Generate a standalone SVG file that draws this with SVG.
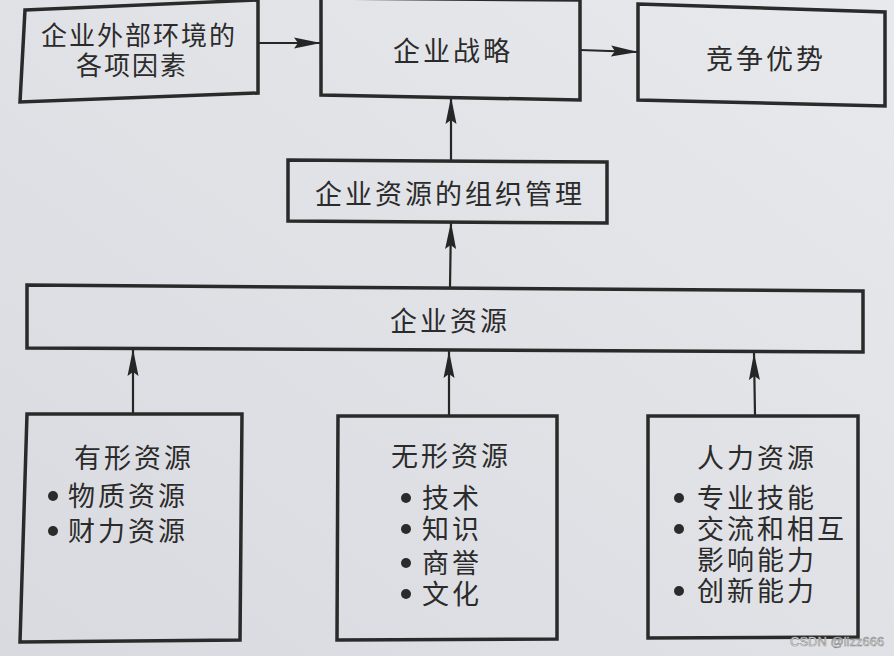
<svg xmlns="http://www.w3.org/2000/svg" width="894" height="656" viewBox="0 0 894 656">
  <defs>
    <linearGradient id="bg" x1="1" y1="0" x2="0" y2="1">
      <stop offset="0" stop-color="#e8e9ed"/>
      <stop offset="1" stop-color="#d9dadf"/>
    </linearGradient>
    <marker id="arr" markerUnits="userSpaceOnUse" markerWidth="28" markerHeight="12" refX="27" refY="6" orient="auto" viewBox="0 0 28 12">
      <path d="M0,0.5 L27,6 L0,11.5 L4,6 Z" fill="#262626"/>
    </marker>
    <style>
      .box { fill: none; stroke: #2a2a2a; stroke-width: 3.5; stroke-linejoin: miter; }
      .t { font-family: "Liberation Sans", "Noto Sans CJK SC", sans-serif; font-size: 27px; fill: #2b2b2b; dominant-baseline: central; letter-spacing: 3px; }
      .s { font-size: 26px; letter-spacing: 2px; }
      .c { text-anchor: middle; }
      .b { fill: #2b2b2b; }
      .ln { stroke: #262626; stroke-width: 2.2; fill: none; }
    </style>
  </defs>
  <rect x="0" y="0" width="894" height="656" fill="url(#bg)"/>

  <g id="connectors">
    <line class="ln" x1="258" y1="43" x2="321" y2="43" marker-end="url(#arr)"/>
    <line class="ln" x1="580" y1="50" x2="638" y2="52" marker-end="url(#arr)"/>
    <line class="ln" x1="451" y1="160" x2="451" y2="97" marker-end="url(#arr)"/>
    <line class="ln" x1="450" y1="287" x2="451" y2="222" marker-end="url(#arr)"/>
    <line class="ln" x1="133" y1="414" x2="133" y2="349" marker-end="url(#arr)"/>
    <line class="ln" x1="449" y1="416" x2="449" y2="351" marker-end="url(#arr)"/>
    <line class="ln" x1="755" y1="416" x2="754" y2="353" marker-end="url(#arr)"/>
  </g>

  <g id="n-external">
    <polygon class="box" points="25,10 258,0 258,93 20,102"/>
    <text class="t s c" x="139" y="36">企业外部环境的</text>
    <text class="t s c" x="132" y="66">各项因素</text>
  </g>
  <g id="n-strategy">
    <polygon class="box" points="321,-2 580,0 580,100 321,95"/>
    <text class="t c" x="453" y="52">企业战略</text>
  </g>
  <g id="n-advantage">
    <polygon class="box" points="638,4 885,12 885,106 638,100"/>
    <text class="t c" x="766" y="60">竞争优势</text>
  </g>
  <g id="n-org">
    <polygon class="box" points="288,160 607,162 607,223 288,221"/>
    <text class="t c" x="450" y="195">企业资源的组织管理</text>
  </g>
  <g id="n-resources">
    <polygon class="box" points="27,285 863,291 863,352 27,348"/>
    <text class="t c" x="450" y="322">企业资源</text>
  </g>
  <g id="n-tangible">
    <polygon class="box" points="27,414 242,414 240,640 20,642"/>
    <text class="t c" x="134" y="459">有形资源</text>
    <circle class="b" cx="53" cy="496" r="5"/>
    <text class="t" x="68" y="497">物质资源</text>
    <circle class="b" cx="53" cy="531" r="5"/>
    <text class="t" x="68" y="532">财力资源</text>
  </g>
  <g id="n-intangible">
    <polygon class="box" points="338,416 557,416 557,639 337,640"/>
    <text class="t c" x="451" y="457">无形资源</text>
    <circle class="b" cx="406" cy="498" r="5"/>
    <text class="t" x="422" y="499">技术</text>
    <circle class="b" cx="406" cy="529" r="5"/>
    <text class="t" x="422" y="530">知识</text>
    <circle class="b" cx="406" cy="563" r="5"/>
    <text class="t" x="422" y="564">商誉</text>
    <circle class="b" cx="406" cy="594" r="5"/>
    <text class="t" x="422" y="595">文化</text>
  </g>
  <g id="n-human">
    <polygon class="box" points="648,416 858,416 858,637 648,638"/>
    <text class="t c" x="757" y="459">人力资源</text>
    <circle class="b" cx="679" cy="498" r="5"/>
    <text class="t" x="697" y="499">专业技能</text>
    <circle class="b" cx="679" cy="529" r="5"/>
    <text class="t" x="697" y="530">交流和相互</text>
    <text class="t" x="697" y="561">影响能力</text>
    <circle class="b" cx="679" cy="591" r="5"/>
    <text class="t" x="697" y="592">创新能力</text>
  </g>
  <text x="790" y="646" font-family="Liberation Sans, Arial, sans-serif" font-size="13" fill="#ffffff" stroke="#8a8a8a" stroke-width="0.6">CSDN @lizz666</text>
</svg>
